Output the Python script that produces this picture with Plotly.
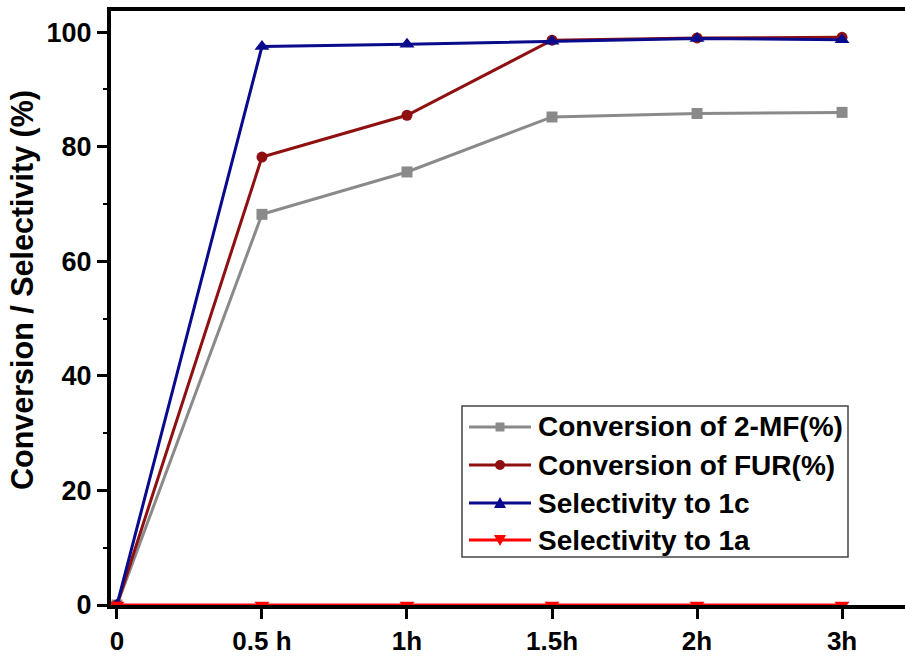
import plotly.graph_objects as go

# ---- data ----
time_labels = ["0", "0.5 h", "1h", "1.5h", "2h", "3h"]
x_pos = [0, 1, 2, 3, 4, 5]
conv_2mf = [0, 68.2, 75.6, 85.2, 85.8, 86.0]
conv_fur = [0, 78.2, 85.5, 98.6, 99.0, 99.1]
sel_1c = [0, 97.5, 97.9, 98.4, 98.9, 98.7]
sel_1a = [0, 0, 0, 0, 0, 0]

series_names = ["Conversion of 2-MF(%)", "Conversion of FUR(%)",
                "Selectivity to 1c", "Selectivity to 1a"]
series_vals = [conv_2mf, conv_fur, sel_1c, sel_1a]
colors = ["#8a8a8a", "#8e1010", "#0a0a8c", "#ff0000"]
symbols = ["square", "circle", "triangle-up", "triangle-down"]
msizes = [11, 11, 13, 13]
y_title = "Conversion / Selectivity (%)"

W, H = 905, 657
ML, MR, MT, MB = 111, 0, 11, 52
FONT = "Liberation Sans, Arial, sans-serif"

fig = go.Figure()
for name, vals, c, s, ms in zip(series_names, series_vals, colors, symbols, msizes):
    fig.add_trace(go.Scatter(
        x=x_pos, y=vals, name=name, mode="lines+markers",
        line=dict(color=c, width=3),
        marker=dict(symbol=s, size=ms, color=c),
        showlegend=False,
    ))

# pixel -> paper helpers (layout only)
PW = W - ML - MR
PH = H - MT - MB
def px(xp):
    return (xp - ML) / PW
def py(yp):
    return (H - MB - yp) / PH

shapes = []
annotations = []
# legend box
shapes.append(dict(type="rect", xref="paper", yref="paper",
                   x0=px(462), x1=px(848), y0=py(557), y1=py(406),
                   line=dict(color="#444444", width=1.5), fillcolor="white",
                   layer="above"))
rows = [427, 465, 503, 540]
for name, c, s, ry in zip(series_names, colors, symbols, rows):
    shapes.append(dict(type="line", xref="paper", yref="paper",
                       x0=px(469), x1=px(531), y0=py(ry), y1=py(ry),
                       line=dict(color=c, width=3), layer="above"))
    cx = 500
    if s == "square":
        shapes.append(dict(type="rect", xref="paper", yref="paper",
                           x0=px(cx - 4.5), x1=px(cx + 4.5), y0=py(ry + 4.5), y1=py(ry - 4.5),
                           line=dict(width=0), fillcolor=c, layer="above"))
    elif s == "circle":
        shapes.append(dict(type="circle", xref="paper", yref="paper",
                           x0=px(cx - 5), x1=px(cx + 5), y0=py(ry + 5), y1=py(ry - 5),
                           line=dict(width=0), fillcolor=c, layer="above"))
    else:
        if s == "triangle-up":
            pts = [(cx - 6, ry + 5), (cx + 6, ry + 5), (cx, ry - 6)]
        else:
            pts = [(cx - 6, ry - 5), (cx + 6, ry - 5), (cx, ry + 6)]
        path = "M " + " L ".join(f"{px(a)},{py(b)}" for a, b in pts) + " Z"
        shapes.append(dict(type="path", xref="paper", yref="paper", path=path,
                           line=dict(width=0), fillcolor=c, layer="above"))
    annotations.append(dict(xref="paper", yref="paper", x=px(536), y=py(ry),
                            xanchor="left", yanchor="middle", showarrow=False,
                            text=name,
                            font=dict(family=FONT, size=28, color="black", weight="bold")))

# y-axis title
annotations.append(dict(xref="paper", yref="paper", x=px(22), y=py(290),
                        xanchor="center", yanchor="middle", showarrow=False,
                        textangle=-90, text=y_title,
                        font=dict(family=FONT, size=30.5, color="black", weight="bold")))

fig.update_layout(
    width=W, height=H,
    margin=dict(l=ML, r=MR, t=MT, b=MB, pad=0),
    paper_bgcolor="white", plot_bgcolor="white",
    showlegend=False,
    shapes=shapes, annotations=annotations,
    xaxis=dict(
        range=[-0.041, 5.434], tickmode="array", tickvals=x_pos, ticktext=time_labels,
        showgrid=False, zeroline=False,
        showline=True, linecolor="black", linewidth=4, mirror=True,
        ticks="outside", ticklen=10, tickwidth=3, tickcolor="black",
        tickfont=dict(family=FONT, size=26, color="black", weight="bold"),
    ),
    yaxis=dict(
        range=[0, 103.7], tickmode="array", tickvals=[0, 20, 40, 60, 80, 100],
        showgrid=False, zeroline=False,
        showline=True, linecolor="black", linewidth=4, mirror=False,
        ticks="outside", ticklen=10, tickwidth=3, tickcolor="black",
        minor=dict(tickvals=[10, 30, 50, 70, 90], ticks="outside", ticklen=4, tickwidth=2, tickcolor="black"),
        tickfont=dict(family=FONT, size=27, color="black", weight="bold"),
    ),
)

fig.write_html("out.html")
